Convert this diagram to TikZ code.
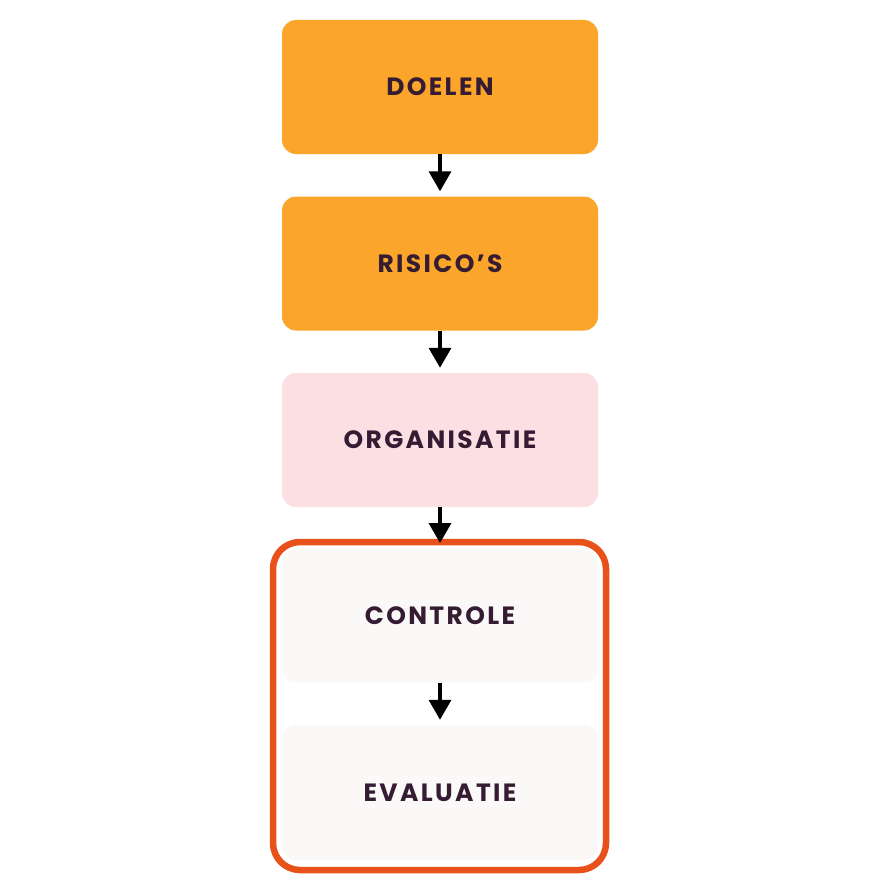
\documentclass[tikz,border=0pt]{standalone}
\usepackage{fontspec}
\setmainfont{Poppins}
\newfontfamily\stepfont[LetterSpace=9.5]{Poppins}
\usetikzlibrary{arrows.meta}
\definecolor{oranje}{HTML}{FCA52B}
\definecolor{roze}{HTML}{FBDFE3}
\definecolor{wit}{HTML}{FBF9F8}
\definecolor{rood}{HTML}{E8511A}
\definecolor{paars}{HTML}{351C33}
\tikzset{
  stap/.style={rounded corners=14pt, minimum width=316pt, minimum height=134pt,
    inner sep=0pt, text=paars, font=\stepfont\bfseries\fontsize{25}{29}\selectfont},
  pijl/.style={line width=3.5pt, -{Triangle[width=22pt,length=20pt]}, shorten >=5pt}
}
\begin{document}
\begin{tikzpicture}[x=1pt,y=-1pt]
\useasboundingbox (0,0) rectangle (880,880);
% stappen
\node[stap, fill=oranje] (doelen) at (440,87) {DOELEN};
\node[stap, fill=oranje] (risicos) at (440,263.5) {RISICO’S};
\node[stap, fill=roze] (organisatie) at (440,440) {ORGANISATIE};
\node[stap, fill=wit] (controle) at (440,615.5) {CONTROLE};
\node[stap, fill=wit, minimum height=135pt] (evaluatie) at (440,792.5) {EVALUATIE};
% kader
\draw[rood, line width=6.5pt, rounded corners=27pt] (273,542) rectangle (606,870);
\coordinate (kader) at (440,545);
% pijlen
\draw[pijl] (doelen) -- (risicos);
\draw[pijl] (risicos) -- (organisatie);
\draw[pijl, shorten >=2pt] (organisatie) -- (kader);
\draw[pijl] (controle) -- (evaluatie);
\end{tikzpicture}
\end{document}
